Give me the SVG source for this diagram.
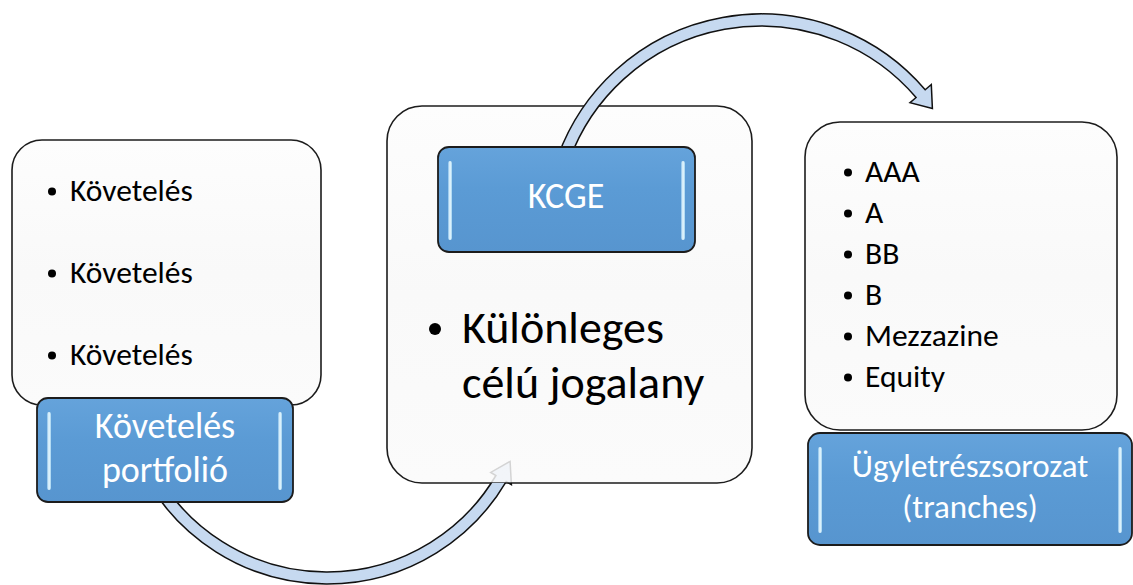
<svg xmlns="http://www.w3.org/2000/svg" width="1133" height="585" viewBox="0 0 1133 585">
  <defs>
    <linearGradient id="cardFill" x1="0" y1="0" x2="0" y2="1">
      <stop offset="0" stop-color="#fdfdfd"/>
      <stop offset="0.5" stop-color="#f9f9f9"/>
      <stop offset="1" stop-color="#fbfbfb"/>
    </linearGradient>
    <linearGradient id="labelFill" x1="0" y1="0" x2="0" y2="1">
      <stop offset="0" stop-color="#65a3db"/>
      <stop offset="0.4" stop-color="#5b9bd5"/>
      <stop offset="1" stop-color="#5795cf"/>
    </linearGradient>
    <linearGradient id="shine" x1="0" y1="0" x2="1" y2="0">
      <stop offset="0" stop-color="#86bde8"/>
      <stop offset="0.5" stop-color="#effcff"/>
      <stop offset="1" stop-color="#9fd0ef"/>
    </linearGradient>
    <!-- the lower arc runs behind the middle card, which lets it show through faintly -->
    <mask id="behindCard" maskUnits="userSpaceOnUse" x="0" y="0" width="1133" height="585">
      <rect x="0" y="0" width="1133" height="585" fill="#fff"/>
      <rect x="387" y="106" width="365" height="377" rx="35" fill="#2a2a2a"/>
    </mask>
    <style>
      .card { fill: url(#cardFill); stroke: #1c1c1c; stroke-width: 1.6; }
      .label { fill: url(#labelFill); stroke: #1c1c1c; stroke-width: 1.8; }
      .shine { fill: url(#shine); }
      .arc { fill: #c6d9f0; stroke: #111; stroke-width: 1.5; stroke-linejoin: miter; }
      .item { font-family: Carlito, Lato, "Liberation Sans", sans-serif; font-size: 31.5px; fill: #000; }
      .big { font-family: Carlito, Lato, "Liberation Sans", sans-serif; font-size: 46px; fill: #000; }
      .cap { font-family: Carlito, Lato, "Liberation Sans", sans-serif; font-size: 36px; fill: #fff; text-anchor: middle; }
      .cap-s { font-size: 33px; }
      .dot { fill: #000; }
    </style>
  </defs>

  <rect x="0" y="0" width="1133" height="585" fill="#fff"/>

  <!-- cards -->
  <g id="card-receivables">
    <rect class="card" x="12" y="140" width="309" height="265" rx="30"/>
    <circle class="dot" cx="52" cy="191.5" r="4"/>
    <text class="item" x="70" y="201">Követelés</text>
    <circle class="dot" cx="52" cy="273.5" r="4"/>
    <text class="item" x="70" y="283">Követelés</text>
    <circle class="dot" cx="52" cy="355.5" r="4"/>
    <text class="item" x="70" y="365">Követelés</text>
  </g>

  <g id="card-spv">
    <rect class="card" x="387" y="106" width="365" height="377" rx="35"/>
    <circle class="dot" cx="435" cy="329" r="6"/>
    <text class="big" x="462" y="343">Különleges</text>
    <text class="big" x="462" y="398">célú jogalany</text>
  </g>

  <g id="card-tranches">
    <rect class="card" x="805" y="122" width="312" height="308" rx="35"/>
    <circle class="dot" cx="848" cy="172.5" r="4"/>
    <text class="item" x="865" y="182">AAA</text>
    <circle class="dot" cx="848" cy="213.5" r="4"/>
    <text class="item" x="865" y="223">A</text>
    <circle class="dot" cx="848" cy="254.5" r="4"/>
    <text class="item" x="865" y="264">BB</text>
    <circle class="dot" cx="848" cy="295.5" r="4"/>
    <text class="item" x="865" y="305">B</text>
    <circle class="dot" cx="848" cy="336.5" r="4"/>
    <text class="item" x="865" y="346">Mezzazine</text>
    <circle class="dot" cx="848" cy="377.5" r="4"/>
    <text class="item" x="865" y="387">Equity</text>
  </g>

  <!-- curved arrows -->
  <g id="connectors">
    <path class="arc" mask="url(#behindCard)" d="M 146.9 480 A 208 208 0 0 0 506.2 481.6 L 511.4 484.6 L 510.1 461.4 L 490.7 472.4 L 495.9 475.5 A 196 196 0 0 1 157.3 474 Z"/>
    <path class="arc" d="M 558.0 156.1 A 216 216 0 0 1 925.2 89.7 L 931.3 84.5 L 932.4 108.6 L 910.0 102.7 L 916.1 97.5 A 204 204 0 0 0 569.3 160.2 Z"/>
  </g>

  <!-- caption boxes -->
  <g id="label-receivables">
    <rect class="label" x="37" y="398" width="256" height="104" rx="11"/>
    <rect class="shine" x="47" y="412" width="4" height="78" rx="2"/>
    <rect class="shine" x="278" y="412" width="4" height="78" rx="2"/>
    <text class="cap" x="165" y="438">Követelés</text>
    <text class="cap" x="165" y="482">portfolió</text>
  </g>

  <g id="label-kcge">
    <rect class="label" x="438" y="147" width="257" height="105" rx="11"/>
    <rect class="shine" x="448" y="161" width="4" height="79" rx="2"/>
    <rect class="shine" x="681" y="161" width="4" height="79" rx="2"/>
    <text class="cap" x="566" y="208">KCGE</text>
  </g>

  <g id="label-tranches">
    <rect class="label" x="808" y="433" width="324" height="112" rx="12"/>
    <rect class="shine" x="818" y="447" width="4" height="86" rx="2"/>
    <rect class="shine" x="1118" y="447" width="4" height="86" rx="2"/>
    <text class="cap cap-s" x="970" y="477">Ügyletrészsorozat</text>
    <text class="cap cap-s" x="970" y="518">(tranches)</text>
  </g>
</svg>
